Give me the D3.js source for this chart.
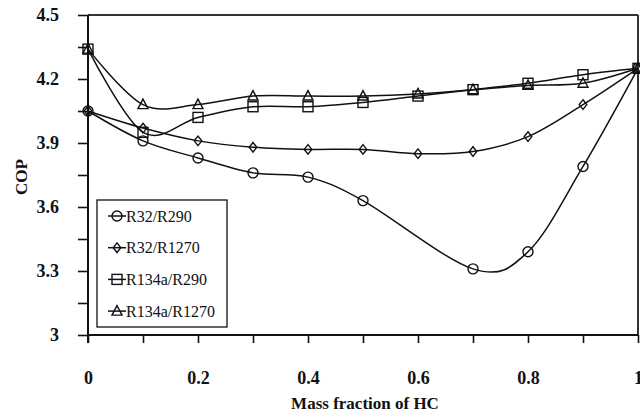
<!DOCTYPE html>
<html>
<head>
<meta charset="utf-8">
<script src="https://cdn.jsdelivr.net/npm/d3@7"></script>
<style>
  html, body { margin: 0; padding: 0; background: #fff; }
  svg { display: block; }
</style>
</head>
<body>
<svg id="chart" width="640" height="414"></svg>
<script>
// COP versus hydrocarbon mass fraction for four refrigerant blends
const xFull = [0, 0.1, 0.2, 0.3, 0.4, 0.5, 0.6, 0.7, 0.8, 0.9, 1];
const xR32R290 = [0, 0.1, 0.2, 0.3, 0.4, 0.5, 0.7, 0.8, 0.9, 1];
const copR32R290 = [4.05, 3.91, 3.83, 3.76, 3.74, 3.63, 3.31, 3.39, 3.79, 4.25];
const copR32R1270 = [4.05, 3.97, 3.91, 3.88, 3.87, 3.87, 3.85, 3.86, 3.93, 4.08, 4.25];
const copR134aR290 = [4.34, 3.95, 4.02, 4.07, 4.07, 4.09, 4.12, 4.15, 4.18, 4.22, 4.25];
const copR134aR1270 = [4.34, 4.08, 4.08, 4.12, 4.12, 4.12, 4.13, 4.15, 4.17, 4.18, 4.25];
const seriesNames = ["R32/R290", "R32/R1270", "R134a/R290", "R134a/R1270"];
const markerTypes = ["circle", "diamond", "square", "triangle"];
const xTickValues = [0, 0.1, 0.2, 0.3, 0.4, 0.5, 0.6, 0.7, 0.8, 0.9, 1];
const xTickLabels = ["0", "", "0.2", "", "0.4", "", "0.6", "", "0.8", "", "1"];
const yTickValues = [3, 3.15, 3.3, 3.45, 3.6, 3.75, 3.9, 4.05, 4.2, 4.35, 4.5];
const yTickLabels = ["3", "", "3.3", "", "3.6", "", "3.9", "", "4.2", "", "4.5"];

const series = [
  { name: seriesNames[0], marker: markerTypes[0], xs: xR32R290, ys: copR32R290 },
  { name: seriesNames[1], marker: markerTypes[1], xs: xFull, ys: copR32R1270 },
  { name: seriesNames[2], marker: markerTypes[2], xs: xFull, ys: copR134aR290 },
  { name: seriesNames[3], marker: markerTypes[3], xs: xFull, ys: copR134aR1270 }
];

const serif = "'Liberation Serif', 'Times New Roman', serif";
const ink = "#111";
const svg = d3.select("#chart");

const plotLeft = 88, plotRight = 638, plotTop = 15, plotBottom = 335;
const x = d3.scaleLinear().domain([0, 1]).range([plotLeft, plotRight]);
const y = d3.scaleLinear().domain([3, 4.5]).range([plotBottom, plotTop]);

// marker shapes
function drawMarker(g, type, cx, cy) {
  const s = g.append("g").attr("transform", `translate(${cx},${cy})`)
    .attr("fill", "none").attr("stroke", ink).attr("stroke-width", 1.4);
  if (type === "circle") s.append("circle").attr("r", 5);
  else if (type === "diamond") s.append("path").attr("d", "M0,-4.8L3.8,0L0,4.8L-3.8,0Z");
  else if (type === "square") s.append("rect").attr("x", -5).attr("y", -5).attr("width", 10).attr("height", 10);
  else if (type === "triangle") s.append("path").attr("d", "M0,-5.5L5,4L-5,4Z");
}

// frame: top and right borders
svg.append("line").attr("x1", plotLeft).attr("x2", plotRight).attr("y1", plotTop).attr("y2", plotTop)
  .attr("stroke", "#333").attr("stroke-width", 2);
svg.append("line").attr("x1", plotRight).attr("x2", plotRight).attr("y1", plotTop).attr("y2", plotBottom)
  .attr("stroke", "#333").attr("stroke-width", 2);

// x axis
const xAxis = d3.axisBottom(x).tickValues(xTickValues)
  .tickFormat((d, i) => xTickLabels[i]).tickSize(8).tickPadding(28);
const gx = svg.append("g").attr("transform", `translate(0,${plotBottom})`).call(xAxis);
gx.select(".domain").attr("stroke", ink).attr("stroke-width", 2).attr("d", `M${plotLeft},0H${plotRight}`);
gx.selectAll(".tick line").attr("stroke", ink).attr("stroke-width", 1.6);
gx.selectAll(".tick text").attr("font-family", serif).attr("font-weight", "bold")
  .attr("font-size", 18).attr("fill", ink);

// y axis
const yAxis = d3.axisLeft(y).tickValues(yTickValues)
  .tickFormat((d, i) => yTickLabels[i]).tickSize(10).tickPadding(19);
const gy = svg.append("g").attr("transform", `translate(${plotLeft},0)`).call(yAxis);
gy.select(".domain").attr("stroke", ink).attr("stroke-width", 2).attr("d", `M0,${plotTop}V${plotBottom + 8}`);
gy.selectAll(".tick line").attr("stroke", ink).attr("stroke-width", 1.6);
gy.selectAll(".tick text").attr("font-family", serif).attr("font-weight", "bold")
  .attr("font-size", 18).attr("fill", ink);

// axis titles
svg.append("text").attr("x", (plotLeft + plotRight) / 2 + 2).attr("y", 409)
  .attr("text-anchor", "middle").attr("font-family", serif).attr("font-weight", "bold")
  .attr("font-size", 17).attr("fill", ink).text("Mass fraction of HC");
svg.append("text").attr("transform", "translate(27,177) rotate(-90)")
  .attr("text-anchor", "middle").attr("font-family", serif).attr("font-weight", "bold")
  .attr("font-size", 17).attr("fill", ink).text("COP");

// smoothed series lines and markers
const line = d3.line().x(d => x(d[0])).y(d => y(d[1])).curve(d3.curveCardinal.tension(0));
const plot = svg.append("g");
series.forEach(s => {
  const pts = s.xs.map((v, i) => [v, s.ys[i]]);
  plot.append("path").datum(pts).attr("d", line)
    .attr("fill", "none").attr("stroke", ink).attr("stroke-width", 1.5);
});
series.forEach(s => {
  s.xs.forEach((v, i) => drawMarker(plot, s.marker, x(v), y(s.ys[i])));
});

// legend
const lg = svg.append("g");
lg.append("rect").attr("x", 97).attr("y", 200).attr("width", 130).attr("height", 127)
  .attr("fill", "#fff").attr("stroke", ink).attr("stroke-width", 1.3);
series.forEach((s, i) => {
  const cy = 216 + i * 31.7;
  lg.append("line").attr("x1", 108).attr("x2", 126).attr("y1", cy).attr("y2", cy)
    .attr("stroke", ink).attr("stroke-width", 1.5);
  drawMarker(lg, s.marker, 117, cy);
  lg.append("text").attr("x", 126).attr("y", cy + 5.5).attr("font-family", serif)
    .attr("font-size", 16).attr("fill", ink).text(s.name);
});
</script>
</body>
</html>
